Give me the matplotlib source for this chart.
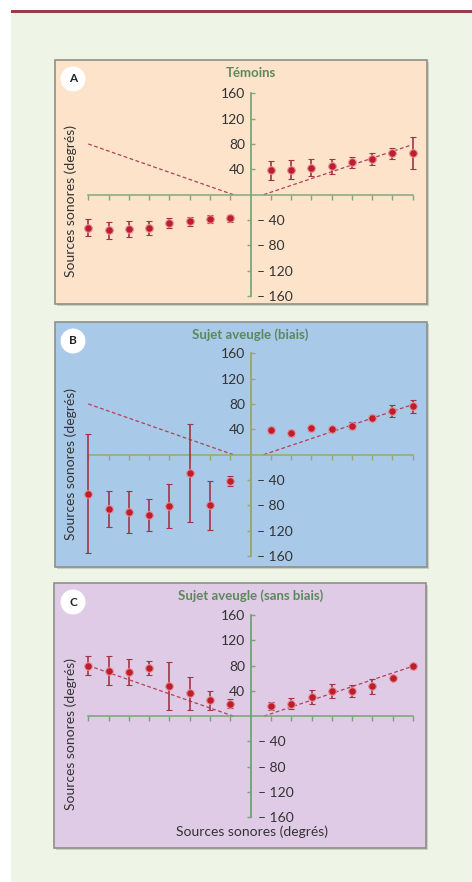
import matplotlib
matplotlib.use('Agg')
import matplotlib.pyplot as plt
from matplotlib.patches import Rectangle, Circle

plt.rcParams['font.family'] = ['Lato', 'DejaVu Sans']

W, H = 472, 882

# x : source positions (degrees)
x_val = [-80, -70, -60, -50, -40, -30, -20, -10, 10, 20, 30, 40, 50, 60, 70, 80]

# y : perceived position, mean and error
a_mean = [-52, -56.5, -54, -53, -45, -42, -38.5, -37.5, 38.5, 39.6, 42.8, 45, 51, 56.5, 65, 66]
a_err = [14, 13, 12.5, 11, 8, 7, 6, 6, 15, 15, 14, 12, 9, 9, 8, 25]

b_mean = [-62, -86, -90, -95, -81, -29, -80, -42, 38.5, 34, 42, 40.6, 46, 58, 69, 76.5]
b_err = [94, 29, 33, 25, 35, 77, 39, 8, 5, 5, 4, 3, 5, 4, 9, 10]

c_mean = [80, 72, 70, 75.5, 47.5, 36, 25, 20, 16, 20, 30.6, 39.6, 39.6, 47.5, 61, 80]
c_err = [15.5, 23.5, 20, 11, 38, 26, 15, 7, 6, 8, 11, 11.5, 10, 12, 3, 3]

# ideal response lines
ref_left_x = [-80, -8.5]
ref_left_y = [80, 0]
ref_right_x = [6.5, 79]
ref_right_y = [0, 78]

pos_ticks = [40, 80, 120, 160]
pos_labels = ['40', '80', '120', '160']
neg_ticks = [-40, -80, -120, -160]
neg_labels = ['– 40', '– 80', '– 120', '– 160']

titles = ['Témoins', 'Sujet aveugle (biais)', 'Sujet aveugle (sans biais)']
letters = ['A', 'B', 'C']
ylabel = 'Sources sonores (degrés)'
xlabel = 'Sources sonores (degrés)'

# pixel boxes: panel rectangle, then data area
panel_box = [(55, 60, 427, 304), (55, 322, 427, 567), (54, 583, 426, 848)]
axes_box = [(88.3, 93.3, 412.7, 296), (88.3, 353.3, 412.7, 556), (88.3, 615, 413, 817.3)]
panel_fc = ['#fde3c9', '#a9c9e9', '#e0cbe6']
axis_col = ['#82a87c', '#9aa66c', '#74a574']
mean_map = [a_mean, b_mean, c_mean]
err_map = [a_err, b_err, c_err]


def fig_rect(l, t, r, b):
    return [l / W, 1 - b / H, (r - l) / W, (b - t) / H]


def draw():
    fig = plt.figure(figsize=(W / 100, H / 100), dpi=100)
    fig.patch.set_facecolor('white')

    # background + top rule
    fig.patches.append(Rectangle((11 / W, 0), 1, 1 - 13.3 / H, transform=fig.transFigure,
                                 fc='#eef5e6', ec='none', zorder=-5))
    fig.patches.append(Rectangle((11 / W, 1 - 13.3 / H), 1, 3.2 / H, transform=fig.transFigure,
                                 fc='#9b3a4b', ec='none', zorder=-5))

    for i in range(3):
        l, t, r, b = panel_box[i]
        fig.patches.append(Rectangle(((l + 1.5) / W, 1 - (b + 1.5) / H), (r - l) / W, (b - t) / H,
                                     transform=fig.transFigure, fc='#c9cfc2', ec='none', zorder=-4))
        fig.patches.append(Rectangle((l / W, 1 - b / H), (r - l) / W, (b - t) / H,
                                     transform=fig.transFigure, fc=panel_fc[i], ec='#8f8f88',
                                     lw=1.2, zorder=-3))
        fig.patches.append(Circle((73 / 100, (H - t - 19) / 100), 0.125, transform=fig.dpi_scale_trans,
                                  fc='white', ec='none', zorder=-2))
        fig.text(73 / W, 1 - (t + 19) / H, letters[i], ha='center', va='center',
                 fontsize=8.5, fontweight='bold', color='#222222')

        ac = axis_col[i]
        ax = fig.add_axes(fig_rect(*axes_box[i]))
        ax.set_facecolor('none')
        ax.set_xlim(-80, 80)
        ax.set_ylim(-160, 160)
        ax.spines['left'].set_position(('data', 0))
        ax.spines['bottom'].set_position(('data', 0))
        ax.spines['top'].set_visible(False)
        ax.spines['right'].set_visible(False)
        for s in ['left', 'bottom']:
            ax.spines[s].set_color(ac)
            ax.spines[s].set_linewidth(1.1)
        ax.set_xticks(x_val)
        ax.set_xticklabels([])
        ax.tick_params(axis='x', direction='out', length=3.5, width=1, color=ac)
        ax.set_yticks(pos_ticks)
        ax.set_yticklabels(pos_labels)
        ax.tick_params(axis='y', direction='in', length=3, width=1, color=ac, pad=4,
                       labelsize=10, labelcolor='#333333')

        ax2 = ax.twinx()
        ax2.set_ylim(-160, 160)
        for s in ['left', 'top', 'bottom']:
            ax2.spines[s].set_visible(False)
        ax2.spines['right'].set_position(('data', 0))
        ax2.spines['right'].set_color(ac)
        ax2.spines['right'].set_linewidth(1.1)
        ax2.set_yticks(neg_ticks)
        ax2.set_yticklabels(neg_labels)
        ax2.tick_params(axis='y', direction='in', length=3, width=1, color=ac, pad=5,
                        labelsize=10, labelcolor='#333333')

        ax.plot(ref_left_x, ref_left_y, ls=(0, (3, 2)), c='#b0405a', lw=0.9, zorder=2)
        ax.plot(ref_right_x, ref_right_y, ls=(0, (3, 2)), c='#b0405a', lw=0.9, zorder=2)
        ax.errorbar(x_val, mean_map[i], yerr=err_map[i], fmt='o', ms=5.5, mfc='#bf1c2c',
                    mec='#e0939b', mew=0.8, ecolor='#a33348', elinewidth=1.2, capsize=2.5,
                    capthick=1.2, clip_on=False, zorder=3)

        cx = (axes_box[i][0] + axes_box[i][2]) / 2
        fig.text(cx / W, 1 - (t + 13) / H, titles[i], ha='center', va='center',
                 fontsize=9.5, fontweight='bold', color='#5a8a5a')
        fig.text(70.7 / W, 1 - ((t + b) / 2 + 19) / H, ylabel, rotation=90, ha='center',
                 va='center', fontsize=10, color='#333333')

    fig.text(251.7 / W, 1 - 832 / H, xlabel, ha='center', va='center', fontsize=10,
             color='#333333')

    plt.savefig('out.png', dpi=100)


def main():
    draw()


if __name__ == '__main__':
    main()
